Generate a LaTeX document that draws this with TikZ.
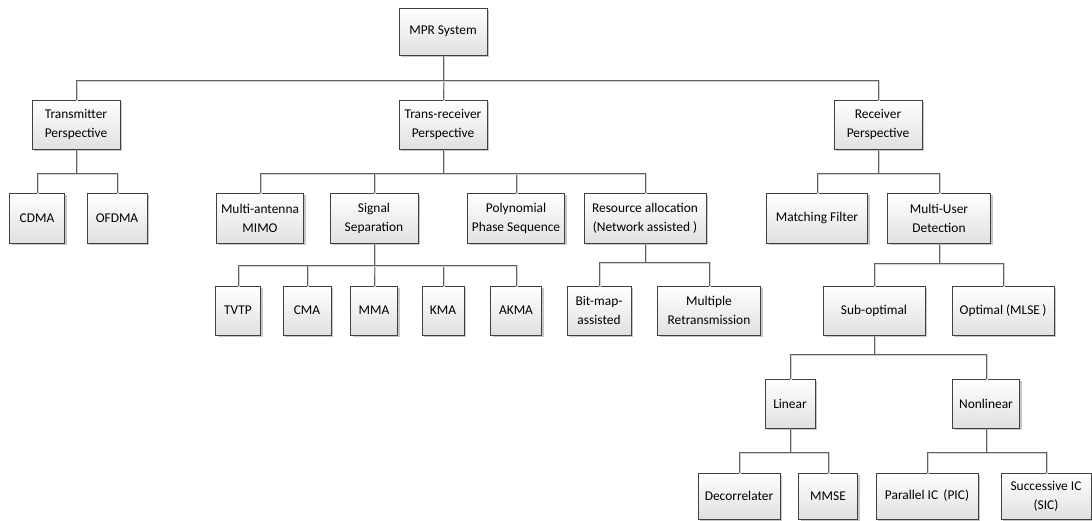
\documentclass[tikz,border=0pt]{standalone}
\usepackage{fontspec}
\setmainfont{Carlito}
\usetikzlibrary{shadows}

\tikzset{
  treebox/.style={
    draw=black!75, line width=0.7pt, rectangle, inner sep=0pt, outer sep=0pt,
    top color=white, bottom color=black!12,
    drop shadow={shadow xshift=2pt, shadow yshift=-2pt, fill=black!22, opacity=1},
    align=center, text=black,
    font=\fontsize{13.4}{19}\selectfont
  },
  conn/.style={
    draw=black!62, line width=0.9pt,
    preaction={draw=black!18, line width=1.1pt,
               transform canvas={shift={(1pt,-1pt)}}}
  }
}
% parent -> child through a horizontal bar #3 pt below the parent
\newcommand\treeedge[3]{\draw[conn] (#1.south) -- ++(0,#3) -| (#2.north);}

\begin{document}
\begin{tikzpicture}[x=1pt, y=-1pt]
\useasboundingbox (0,0) rectangle (1092,520);

% level 0
\node[treebox, minimum width=88, minimum height=47] (mpr) at (443,31.5) {MPR System};

% level 1
\node[treebox, minimum width=88, minimum height=49] (tx)  at (76,124.5)  {Transmitter\\Perspective};
\node[treebox, minimum width=88, minimum height=49] (trx) at (443,124.5) {Trans-receiver\\Perspective};
\node[treebox, minimum width=88, minimum height=49] (rx)  at (878,124.5) {Receiver\\Perspective};

% level 2
\node[treebox, minimum width=55,  minimum height=50] (cdma)  at (37,218)    {CDMA};
\node[treebox, minimum width=60,  minimum height=50] (ofdma) at (117,218)   {OFDMA};
\node[treebox, minimum width=87,  minimum height=50] (mimo)  at (260,218)   {Multi-antenna\\MIMO};
\node[treebox, minimum width=88,  minimum height=50] (sep)   at (374,218)   {Signal\\Separation};
\node[treebox, minimum width=97,  minimum height=50] (poly)  at (516,218)   {Polynomial\\Phase Sequence};
\node[treebox, minimum width=122, minimum height=50] (res)   at (645,218)   {Resource allocation\\(Network assisted )};
\node[treebox, minimum width=101, minimum height=50] (mf)    at (817,218)   {Matching Filter};
\node[treebox, minimum width=103, minimum height=50] (mud)   at (939,218)   {Multi-User\\Detection};

% level 3
\node[treebox, minimum width=45,  minimum height=49] (tvtp)  at (238,310.5) {TVTP};
\node[treebox, minimum width=48,  minimum height=49] (cma)   at (307,310.5) {CMA};
\node[treebox, minimum width=47,  minimum height=49] (mma)   at (374,310.5) {MMA};
\node[treebox, minimum width=42,  minimum height=49] (kma)   at (443,310.5) {KMA};
\node[treebox, minimum width=51,  minimum height=49] (akma)  at (516,310.5) {AKMA};
\node[treebox, minimum width=64,  minimum height=49] (bmap)  at (599,310.5) {Bit-map-\\assisted};
\node[treebox, minimum width=103, minimum height=49] (mret)  at (709,310.5) {Multiple\\Retransmission};
\node[treebox, minimum width=102, minimum height=49] (sub)   at (874,310.5) {Sub-optimal};
\node[treebox, minimum width=102, minimum height=49] (opt)   at (1003,310.5) {Optimal (MLSE\,)};

% level 4
\node[treebox, minimum width=50, minimum height=49] (lin)  at (790,403.5) {Linear};
\node[treebox, minimum width=67, minimum height=49] (nlin) at (986,403.5) {Nonlinear};

% level 5
\node[treebox, minimum width=82,  minimum height=46] (dec)  at (739,496)  {Decorrelater};
\node[treebox, minimum width=59,  minimum height=46] (mmse) at (828,496)  {MMSE};
\node[treebox, minimum width=102, minimum height=46] (pic)  at (927,496)  {Parallel IC\ \,(PIC)};
\node[treebox, minimum width=90,  minimum height=46] (sic)  at (1046,496) {Successive IC\\(SIC)};

% connectors
\treeedge{mpr}{tx}{25}
\treeedge{mpr}{trx}{25}
\treeedge{mpr}{rx}{25}

\treeedge{tx}{cdma}{24}
\treeedge{tx}{ofdma}{24}

\treeedge{trx}{mimo}{24}
\treeedge{trx}{sep}{24}
\treeedge{trx}{poly}{24}
\treeedge{trx}{res}{24}

\treeedge{rx}{mf}{24}
\treeedge{rx}{mud}{24}

\treeedge{sep}{tvtp}{22}
\treeedge{sep}{cma}{22}
\treeedge{sep}{mma}{22}
\treeedge{sep}{kma}{22}
\treeedge{sep}{akma}{22}

\treeedge{res}{bmap}{19}
\treeedge{res}{mret}{19}

\treeedge{mud}{sub}{20}
\treeedge{mud}{opt}{20}

\treeedge{sub}{lin}{19}
\treeedge{sub}{nlin}{19}

\treeedge{lin}{dec}{24}
\treeedge{lin}{mmse}{24}

\treeedge{nlin}{pic}{24}
\treeedge{nlin}{sic}{24}
\end{tikzpicture}
\end{document}
